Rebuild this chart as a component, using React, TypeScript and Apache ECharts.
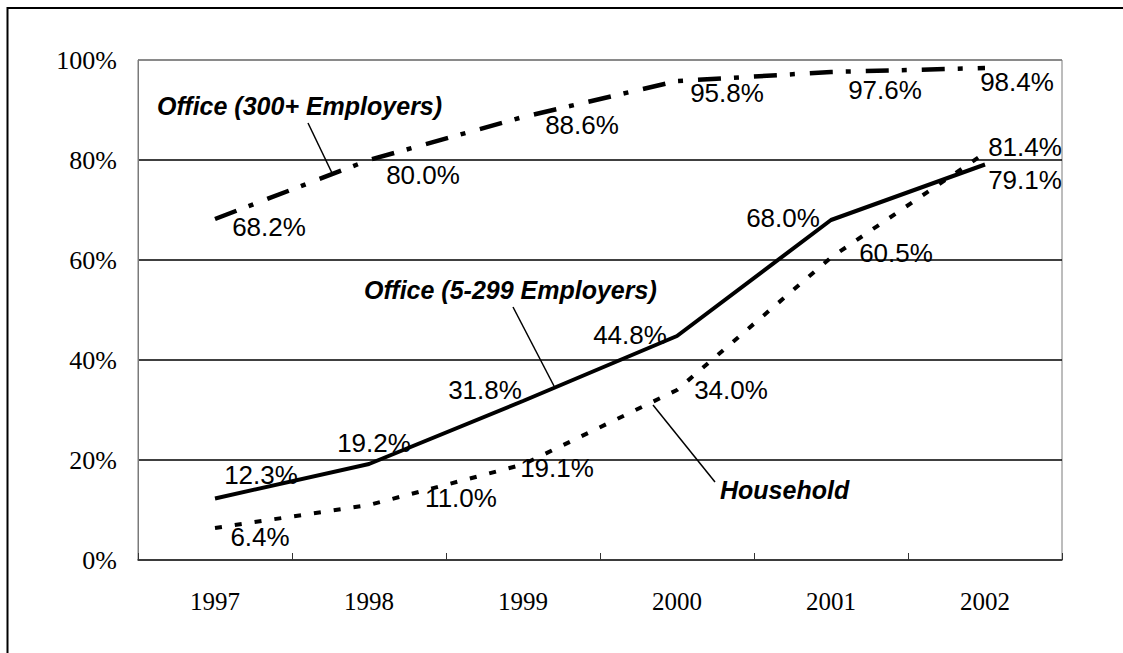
import React, { useEffect, useRef } from 'react';
import * as echarts from 'echarts';

// ---- data ----
const categories = ['1997', '1998', '1999', '2000', '2001', '2002'];
const office300 = [68.2, 80.0, 88.6, 95.8, 97.6, 98.4];
const office5to299 = [12.3, 19.2, 31.8, 44.8, 68.0, 79.1];
const household = [6.4, 11.0, 19.1, 34.0, 60.5, 81.4];
const yMin = 0;
const yMax = 100;
const yStep = 20;

// ---- label placement (pixel offsets from each point) ----
const off300 = [[54, 8], [54, 15], [59, 8], [50, 12], [54, 18], [32, 14]];
const off5 = [[46, -24], [5, -21], [-38, -11], [-47, -1], [-48, -2], [40, 15]];
const offHH = [[45, 9], [92, -7], [34, 3], [54, 0], [65, -5], [40, -6]];

const SANS = '"Liberation Sans", Arial, sans-serif';
const SERIF = '"Liberation Serif", "Times New Roman", serif';

function mkSeries(name: string, values: number[], offsets: number[][], lineStyle: any) {
  return {
    name,
    type: 'line',
    data: values.map((v, i) => ({
      value: v,
      label: { offset: offsets[i] },
    })),
    symbol: 'circle',
    symbolSize: 1,
    itemStyle: { color: 'rgba(0,0,0,0)' },
    lineStyle: { color: '#000', ...lineStyle },
    label: {
      show: true,
      position: 'inside',
      align: 'center',
      verticalAlign: 'middle',
      color: '#000',
      fontFamily: SANS,
      fontSize: 26,
      formatter: (p: any) => Number(p.value).toFixed(1) + '%',
    },
    emphasis: { disabled: true },
    silent: true,
  };
}

export default function App() {
  const ref = useRef<HTMLDivElement>(null);
  useEffect(() => {
    const chart = echarts.init(ref.current!, null, { renderer: 'svg' });
    const option: any = {
      animation: false,
      backgroundColor: '#fff',
      grid: {
        left: 138,
        right: 61,
        top: 60,
        bottom: 93,
        show: true,
        borderColor: '#7a7a7a',
        borderWidth: 1,
      },
      xAxis: {
        type: 'category',
        data: categories,
        boundaryGap: true,
        axisLine: { show: true, lineStyle: { color: '#333', width: 1.5 } },
        axisTick: { show: true, inside: true, length: 7, lineStyle: { color: '#333', width: 1 } },
        axisLabel: { color: '#000', fontFamily: SERIF, fontSize: 25, margin: 29 },
        splitLine: { show: false },
      },
      yAxis: {
        type: 'value',
        min: yMin,
        max: yMax,
        interval: yStep,
        axisLine: { show: true, lineStyle: { color: '#7a7a7a', width: 1 } },
        axisTick: { show: false },
        axisLabel: {
          color: '#000',
          fontFamily: SERIF,
          fontSize: 26,
          margin: 21,
          formatter: '{value}%',
        },
        splitLine: {
          show: true,
          lineStyle: {
            color: ['#333', '#000', '#000', '#000', '#000', '#7a7a7a'],
            width: 1.5,
          },
        },
      },
      series: [
        mkSeries('Household', household, offHH, { width: 4, type: [7, 13] }),
        mkSeries('Office (5-299 Employers)', office5to299, off5, { width: 4, type: 'solid' }),
        mkSeries('Office (300+ Employers)', office300, off300, { width: 4.5, type: [23, 13, 5, 15] }),
      ],
      graphic: [
        {
          type: 'polyline',
          shape: { points: [[7.5, 653], [7.5, 8], [1123, 8]] },
          style: { stroke: '#000', lineWidth: 2, fill: 'none' },
          silent: true,
        },
        {
          type: 'text',
          x: 157,
          y: 106,
          style: {
            text: 'Office (300+ Employers)',
            fill: '#000',
            fontFamily: SANS,
            fontSize: 25,
            fontWeight: 'bold',
            fontStyle: 'italic',
            textAlign: 'left',
            textVerticalAlign: 'middle',
          },
        },
        {
          type: 'line',
          shape: { x1: 308, y1: 123, x2: 332, y2: 173 },
          style: { stroke: '#000', lineWidth: 1.5 },
        },
        {
          type: 'text',
          x: 364,
          y: 290,
          style: {
            text: 'Office (5-299 Employers)',
            fill: '#000',
            fontFamily: SANS,
            fontSize: 25,
            fontWeight: 'bold',
            fontStyle: 'italic',
            textAlign: 'left',
            textVerticalAlign: 'middle',
          },
        },
        {
          type: 'line',
          shape: { x1: 513, y1: 307, x2: 554, y2: 386 },
          style: { stroke: '#000', lineWidth: 1.5 },
        },
        {
          type: 'text',
          x: 720,
          y: 490,
          style: {
            text: 'Household',
            fill: '#000',
            fontFamily: SANS,
            fontSize: 25,
            fontWeight: 'bold',
            fontStyle: 'italic',
            textAlign: 'left',
            textVerticalAlign: 'middle',
          },
        },
        {
          type: 'line',
          shape: { x1: 653, y1: 405, x2: 715, y2: 482 },
          style: { stroke: '#000', lineWidth: 1.5 },
        },
      ],
    };
    chart.setOption(option);
    return () => chart.dispose();
  }, []);
  return (
    <div
      ref={ref}
      style={{ position: 'absolute', left: 0, top: 0, width: 1123, height: 653, background: '#fff' }}
    />
  );
}
